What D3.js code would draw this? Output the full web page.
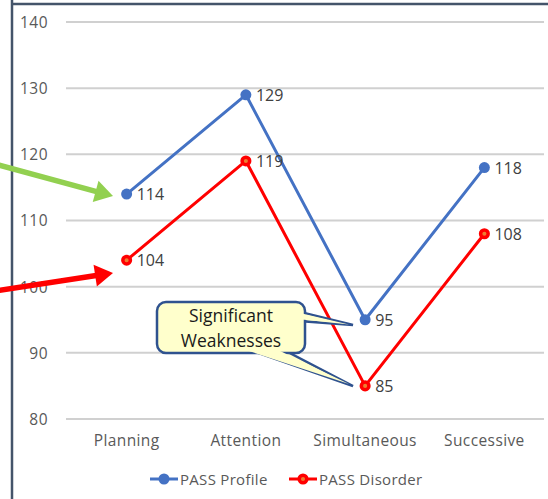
<!DOCTYPE html>
<html>
<head>
<meta charset="utf-8">
<script src="https://cdn.jsdelivr.net/npm/d3@7"></script>
<style>
  html, body { margin: 0; padding: 0; background: #fff; }
  svg { display: block; font-family: "Open Sans", "Noto Sans", sans-serif; }
</style>
</head>
<body>
<svg id="chart" width="548" height="499"></svg>
<script>
// PASS scores by cognitive process
const categories = ["Planning", "Attention", "Simultaneous", "Successive"];
const passProfile = [114, 129, 95, 118];
const passDisorder = [104, 119, 85, 108];
const yTicks = [80, 90, 100, 110, 120, 130, 140];
const seriesNames = ["PASS Profile", "PASS Disorder"];

const svg = d3.select("#chart");
const W = 548, H = 499;

const x = d3.scaleBand().domain(categories).range([67, 544]);
const y = d3.scaleLinear().domain([80, 140]).range([419, 22]);

const textColor = "#595959";
const blue = "#4472C4", red = "#FF0000", green = "#92D050";

// frame
svg.append("line").attr("x1", 12).attr("x2", 12).attr("y1", 0).attr("y2", H)
  .attr("stroke", "#44546A").attr("stroke-width", 2.5);
svg.append("line").attr("x1", 11).attr("x2", W).attr("y1", 4).attr("y2", 4)
  .attr("stroke", "#44546A").attr("stroke-width", 2.5);

// gridlines
svg.append("g").selectAll("line").data(yTicks).join("line")
  .attr("x1", 66).attr("x2", 544)
  .attr("y1", d => y(d)).attr("y2", d => y(d))
  .attr("stroke", "#D0D0D0").attr("stroke-width", 2);

// y-axis labels
const yAxis = d3.axisLeft(y).tickValues(yTicks).tickSize(0).tickPadding(0);
const gy = svg.append("g").attr("transform", "translate(48,0)").call(yAxis);
gy.select(".domain").remove();
gy.selectAll("text").attr("fill", textColor).style("font-size", "15.5px")
  .style("font-family", "'Open Sans', sans-serif").style("letter-spacing", "0.5px")
  .attr("dy", "0.35em");

// x-axis labels
const xAxis = d3.axisBottom(x).tickSize(0).tickPadding(0);
const gx = svg.append("g").attr("transform", "translate(0,435)").call(xAxis);
gx.select(".domain").remove();
gx.selectAll("text").attr("fill", textColor).style("font-size", "15.5px")
  .style("font-family", "'Open Sans', sans-serif").style("letter-spacing", "0.4px")
  .attr("dy", "0.7em");

const cx = d => x(d) + x.bandwidth() / 2;
const line = d3.line().x(d => cx(d.c)).y(d => y(d.v));

function series(values, color, hollow) {
  const data = categories.map((c, i) => ({ c, v: values[i] }));
  svg.append("path").datum(data).attr("d", line)
    .attr("fill", "none").attr("stroke", color).attr("stroke-width", 3)
    .attr("stroke-linejoin", "round");
  svg.append("g").selectAll("circle").data(data).join("circle")
    .attr("cx", d => cx(d.c)).attr("cy", d => y(d.v))
    .attr("r", hollow ? 3.8 : 5.5)
    .attr("fill", hollow ? "#ED7D31" : color)
    .attr("stroke", color).attr("stroke-width", hollow ? 3.5 : 0);
  svg.append("g").selectAll("text").data(data).join("text")
    .attr("x", d => cx(d.c) + 10).attr("y", d => y(d.v) + 6)
    .attr("fill", "#404040").style("font-size", "16px")
    .text(d => d.v);
}
series(passProfile, blue, false);
series(passDisorder, red, true);

// pointer arrows into the Planning points
function arrow(x0, y0, x1, y1, color) {
  const ang = Math.atan2(y1 - y0, x1 - x0);
  const headLen = 18, headHalf = 11;
  const bx = x1 - headLen * Math.cos(ang), by = y1 - headLen * Math.sin(ang);
  const nx = -Math.sin(ang), ny = Math.cos(ang);
  svg.append("line").attr("x1", x0).attr("y1", y0).attr("x2", bx + Math.cos(ang)).attr("y2", by + Math.sin(ang))
    .attr("stroke", color).attr("stroke-width", 5.5);
  svg.append("path")
    .attr("d", `M${x1},${y1}L${bx + nx * headHalf},${by + ny * headHalf}L${bx - nx * headHalf},${by - ny * headHalf}Z`)
    .attr("fill", color);
}
arrow(-5, 164, 113, 196, green);
arrow(-5, 291, 113, 273, red);

// callout box with two pointers
const fillC = "#FFFFCC", strokeC = "#2F528F";
const wedges = [
  [[300, 312], [353, 325], [300, 321]],
  [[244, 348], [353, 386], [280, 348]]
];
const wedgePath = pts => "M" + pts.map(p => p.join(",")).join("L") + "Z";
svg.append("g").selectAll("path").data(wedges).join("path")
  .attr("d", wedgePath).attr("fill", fillC).attr("stroke", strokeC)
  .attr("stroke-width", 2.5).attr("stroke-linejoin", "miter");
svg.append("rect").attr("x", 157).attr("y", 302).attr("width", 148).attr("height", 51)
  .attr("rx", 9).attr("fill", fillC).attr("stroke", strokeC).attr("stroke-width", 2.5);
// open the border where each pointer joins the box
const inner = [
  [[302, 313.5], [349, 324.5], [302, 319.5]],
  [[246, 350], [349, 384], [278, 350]]
];
svg.append("g").selectAll("path").data(inner).join("path")
  .attr("d", wedgePath).attr("fill", fillC);
svg.append("text").attr("x", 231).attr("y", 322).attr("text-anchor", "middle")
  .attr("fill", "#1a1a1a").style("font-size", "17.5px").text("Significant");
svg.append("text").attr("x", 231).attr("y", 347).attr("text-anchor", "middle")
  .attr("fill", "#1a1a1a").style("font-size", "17.5px").text("Weaknesses");

// legend
const legend = [
  { name: seriesNames[0], color: blue, hollow: false, x: 150 },
  { name: seriesNames[1], color: red, hollow: true, x: 289 }
];
const lg = svg.append("g").selectAll("g").data(legend).join("g")
  .attr("transform", d => `translate(${d.x},479)`);
lg.append("line").attr("x1", 0).attr("x2", 28).attr("y1", 0).attr("y2", 0)
  .attr("stroke", d => d.color).attr("stroke-width", 3);
lg.append("circle").attr("cx", 14).attr("cy", 0)
  .attr("r", d => d.hollow ? 3.8 : 5.5)
  .attr("fill", d => d.hollow ? "#ED7D31" : d.color)
  .attr("stroke", d => d.color).attr("stroke-width", d => d.hollow ? 3.5 : 0);
lg.append("text").attr("x", 30).attr("y", 5.5).attr("fill", textColor)
  .style("font-size", "15px").style("letter-spacing", "0.3px").text(d => d.name);
</script>
</body>
</html>
